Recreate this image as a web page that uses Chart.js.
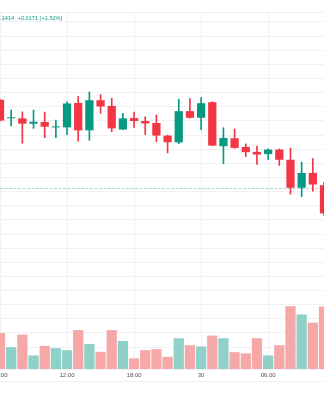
<!DOCTYPE html>
<html>
<head>
<meta charset="utf-8">
<script src="https://cdn.jsdelivr.net/npm/chart.js@4.4.1/dist/chart.umd.min.js"></script>
<style>
  html, body { margin: 0; padding: 0; width: 324px; height: 400px; overflow: hidden; background: #fff; }
  .wrap { position: absolute; left: -20px; top: 0; width: 364px; height: 400px; }
  .legend { position: absolute; left: -3px; top: 15px; font: 5.6px 'Liberation Sans', Arial, sans-serif; line-height: 7px; color: #089981; white-space: nowrap; }
  .legend span { margin-left: 2px; }
</style>
</head>
<body>
<div class="wrap"><canvas id="chart"></canvas></div>
<div class="legend">1.1414 <span>+0.0171 (+1.52%)</span></div>
<script>
// hourly candles, 29th 06:00 -> 30th 11:00
const times = ['06:00', '07:00', '08:00', '09:00', '10:00', '11:00', '12:00', '13:00', '14:00', '15:00',
  '16:00', '17:00', '18:00', '19:00', '20:00', '21:00', '22:00', '23:00', '30', '01:00',
  '02:00', '03:00', '04:00', '05:00', '06:00', '07:00', '08:00', '09:00', '10:00', '11:00'];
const tickLabels = ['06:00', '12:00', '18:00', '30'];

const opens = [1.14749, 1.14618, 1.14618, 1.14580, 1.14592, 1.14554, 1.14554, 1.14727, 1.14533, 1.14746,
  1.14706, 1.14539, 1.14620, 1.14599, 1.14585, 1.14496, 1.14448, 1.14669, 1.14622, 1.14732,
  1.14421, 1.14477, 1.14416, 1.14381, 1.14365, 1.14397, 1.14325, 1.14127, 1.14232, 1.14145];
const highs = [1.14753, 1.14678, 1.14664, 1.14676, 1.14662, 1.14606, 1.14734, 1.14774, 1.14804, 1.14786,
  1.14760, 1.14653, 1.14662, 1.14629, 1.14641, 1.14500, 1.14753, 1.14758, 1.14765, 1.14735,
  1.14552, 1.14543, 1.14437, 1.14421, 1.14402, 1.14402, 1.14407, 1.14309, 1.14334, 1.14164];
const lows = [1.14599, 1.14564, 1.14442, 1.14547, 1.14481, 1.14481, 1.14503, 1.14456, 1.14463, 1.14653,
  1.14524, 1.14538, 1.14552, 1.14503, 1.14453, 1.14374, 1.14439, 1.14620, 1.14538, 1.14423,
  1.14297, 1.14406, 1.14348, 1.14292, 1.14327, 1.14285, 1.14082, 1.14064, 1.14103, 1.13932];
const closes = [1.14602, 1.14622, 1.14580, 1.14594, 1.14559, 1.14559, 1.14723, 1.14533, 1.14746, 1.14702,
  1.14547, 1.14618, 1.14599, 1.14582, 1.14496, 1.14449, 1.14669, 1.14622, 1.14725, 1.14425,
  1.14479, 1.14409, 1.14379, 1.14362, 1.14397, 1.14325, 1.14127, 1.14232, 1.14150, 1.13946];
const volumes = [36300, 22000, 34700, 13700, 23300, 21000, 19000, 39300, 25300, 17300,
  39300, 28300, 10700, 19000, 20000, 12300, 31000, 24000, 22700, 33700,
  31000, 17000, 15700, 31000, 13700, 24000, 63300, 55000, 46700, 63000];
const lastPrice = 1.14122;

const UP = '#089981';
const DOWN = '#f23645';
const UP_VOL = '#8fd1c8';
const DOWN_VOL = '#f6a8a9';
const GRID = '#eff1f4';

const idx = times.map((t, i) => i);
const isUp = i => closes[i] >= opens[i];

// price line + pane borders
const decorations = {
  id: 'decorations',
  beforeDatasetsDraw(chart) {
    const { ctx, chartArea, scales } = chart;
    const y = Math.round(scales.y.getPixelForValue(lastPrice)) + 0.5;
    ctx.save();
    ctx.strokeStyle = 'rgba(8,153,129,0.35)';
    ctx.lineWidth = 1;
    ctx.setLineDash([3, 1.5]);
    ctx.beginPath();
    ctx.moveTo(chartArea.left, y);
    ctx.lineTo(chartArea.right, y);
    ctx.stroke();
    ctx.setLineDash([]);
    ctx.strokeStyle = GRID;
    ctx.beginPath();
    ctx.moveTo(0, chartArea.top + 0.5);
    ctx.lineTo(chart.width, chartArea.top + 0.5);
    ctx.stroke();
    ctx.restore();
  },
  afterDraw(chart) {
    const { ctx, chartArea } = chart;
    ctx.save();
    ctx.strokeStyle = GRID;
    ctx.lineWidth = 1;
    ctx.beginPath();
    ctx.moveTo(0, chartArea.bottom + 12.5);
    ctx.lineTo(chart.width, chartArea.bottom + 12.5);
    ctx.stroke();
    ctx.restore();
  }
};

new Chart(document.getElementById('chart'), {
  type: 'bar',
  data: {
    datasets: [
      {
        label: 'body',
        data: idx.map(i => ({ x: i, y: [opens[i], closes[i]] })),
        backgroundColor: idx.map(i => isUp(i) ? UP : DOWN),
        barPercentage: 0.74,
        categoryPercentage: 1,
        minBarLength: 1,
        grouped: false,
        order: 0,
        yAxisID: 'y'
      },
      {
        label: 'wick',
        data: idx.map(i => ({ x: i, y: [lows[i], highs[i]] })),
        backgroundColor: idx.map(i => isUp(i) ? UP : DOWN),
        barThickness: 1,
        grouped: false,
        order: 1,
        yAxisID: 'y'
      },
      {
        label: 'volume',
        data: idx.map(i => ({ x: i, y: volumes[i] })),
        backgroundColor: idx.map(i => isUp(i) ? UP_VOL : DOWN_VOL),
        barPercentage: 0.92,
        categoryPercentage: 1,
        grouped: false,
        order: 2,
        yAxisID: 'yVol'
      }
    ]
  },
  options: {
    responsive: true,
    maintainAspectRatio: false,
    animation: false,
    events: [],
    layout: { padding: { left: 20, right: 20, top: 12, bottom: 17.8 } },
    plugins: { legend: { display: false }, tooltip: { enabled: false } },
    scales: {
      x: {
        type: 'linear',
        min: 0,
        max: times.length - 1,
        offset: false,
        grid: { color: GRID, drawTicks: false, offset: false },
        border: { color: GRID },
        ticks: {
          color: '#555',
          font: { family: "'Liberation Sans', Arial, sans-serif", size: 6 },
          padding: 3,
          maxRotation: 0,
          autoSkip: false,
          callback: v => times[v]
        },
        afterBuildTicks: scale => {
          scale.ticks = idx.filter(i => tickLabels.includes(times[i])).map(i => ({ value: i }));
        }
      },
      y: {
        position: 'right',
        min: 1.128454,
        max: 1.1537,
        ticks: { display: false },
        grid: { color: GRID, drawTicks: false },
        border: { display: false },
        afterBuildTicks: scale => {
          const ticks = [];
          for (let v = 1.129; v < 1.1536; v += 0.001) ticks.push({ value: +v.toFixed(3) });
          scale.ticks = ticks;
        }
      },
      yVol: {
        display: false,
        position: 'left',
        min: 0,
        max: 360000
      }
    }
  },
  plugins: [decorations]
});
</script>
</body>
</html>
